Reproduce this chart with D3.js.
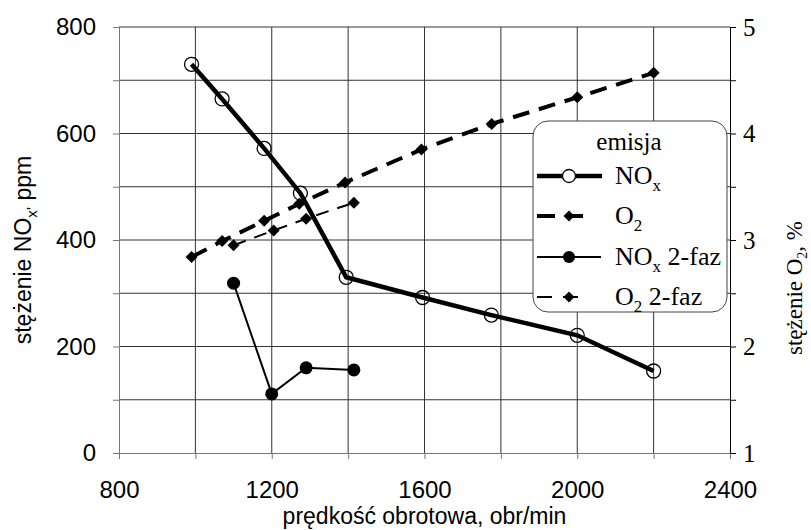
<!DOCTYPE html>
<html>
<head>
<meta charset="utf-8">
<style>
  body { margin: 0; background: #fff; }
  svg { display: block; }
</style>
</head>
<body>
<svg class="chart"></svg>

<script src="https://d3js.org/d3.v7.min.js"></script>
<script>
// speed (obr/min) and concentrations
rpmNox = [990, 1070, 1180, 1275, 1395, 1595, 1775, 2000, 2200]
nox    = [730, 665, 572, 488, 330, 292, 259, 221, 154]

rpmO2  = [990, 1070, 1180, 1272, 1392, 1592, 1776, 2000, 2200]
o2     = [2.84, 2.99, 3.18, 3.34, 3.54, 3.85, 4.09, 4.34, 4.57]

rpmNox2 = [1100, 1200, 1290, 1415]
nox2    = [319, 111, 160, 156]

rpmO22 = [1100, 1205, 1290, 1415]
o22    = [2.95, 3.09, 3.20, 3.35]

xTicks  = [800, 1200, 1600, 2000, 2400]
yTicks  = [0, 200, 400, 600, 800]
y2Ticks = [1, 2, 3, 4, 5]

width  = 811
height = 530
margin = ({top: 27, right: 81, bottom: 77, left: 119})

sans  = "'Liberation Sans', Arial, sans-serif"
serif = "'Liberation Serif', 'Times New Roman', serif"

x = d3.scaleLinear().domain([800, 2400]).range([margin.left, width - margin.right])
y = d3.scaleLinear().domain([0, 800]).range([height - margin.bottom, margin.top])
y2 = d3.scaleLinear().domain([1, 5]).range([height - margin.bottom, margin.top])

const svg = d3.select("svg")
    .attr("width", width)
    .attr("height", height)
    .attr("viewBox", [0, 0, width, height]);

// grid
svg.append("g")
    .attr("stroke", "#333")
    .attr("stroke-width", 1)
  .selectAll("line")
  .data(d3.range(1000, 2400, 200))
  .join("line")
    .attr("x1", d => x(d)).attr("x2", d => x(d))
    .attr("y1", y(0)).attr("y2", y(800));

svg.append("g")
    .attr("stroke", "#333")
    .attr("stroke-width", 1)
  .selectAll("line")
  .data(d3.range(100, 900, 100))
  .join("line")
    .attr("x1", x(800)).attr("x2", x(2400))
    .attr("y1", d => y(d)).attr("y2", d => y(d));

// axes
xAxis = g => g
    .attr("transform", `translate(0,${y(0)})`)
    .call(d3.axisBottom(x).tickValues(d3.range(800, 2401, 200)).tickSize(6)
      .tickFormat(d => xTicks.includes(d) ? d : ""))
    .call(g => g.selectAll(".domain, line").attr("stroke", "#777"))
    .call(g => g.selectAll("text").attr("font-family", sans).attr("font-size", 24)
      .attr("fill", "#000").attr("y", 28).attr("dy", "0.71em"));

yAxis = g => g
    .attr("transform", `translate(${x(800)},0)`)
    .call(d3.axisLeft(y).tickValues(d3.range(0, 801, 100)).tickSize(6)
      .tickFormat(d => yTicks.includes(d) ? d : ""))
    .call(g => g.selectAll(".domain, line").attr("stroke", "#777"))
    .call(g => g.selectAll("text").attr("font-family", sans).attr("font-size", 24)
      .attr("fill", "#000").attr("x", -23));

y2Axis = g => g
    .attr("transform", `translate(${x(2400)},0)`)
    .call(d3.axisRight(y2).tickValues(d3.range(1, 5.01, 0.5)).tickSize(6)
      .tickFormat(d => y2Ticks.includes(d) ? d : ""))
    .call(g => g.selectAll(".domain, line").attr("stroke", "#000"))
    .call(g => g.selectAll("text").attr("font-family", serif).attr("font-size", 25)
      .attr("fill", "#000").attr("x", 13));

svg.append("g").call(xAxis);
svg.append("g").call(yAxis);
svg.append("g").call(y2Axis);

// axis titles
svg.append("text")
    .attr("x", x(1600)).attr("y", 524)
    .attr("text-anchor", "middle")
    .attr("font-family", sans).attr("font-size", 23)
    .text("prędkość obrotowa, obr/min");

const yt = svg.append("text")
    .attr("transform", "translate(31,250) rotate(-90)")
    .attr("text-anchor", "middle")
    .attr("font-family", sans).attr("font-size", 23);
yt.append("tspan").text("stężenie NO");
yt.append("tspan").attr("font-size", 15).attr("dy", 6).text("x’");
yt.append("tspan").attr("dy", -6).text(" ppm");

const y2t = svg.append("text")
    .attr("transform", "translate(802,288) rotate(-90)")
    .attr("text-anchor", "middle")
    .attr("font-family", serif).attr("font-size", 23);
y2t.append("tspan").text("stężenie O");
y2t.append("tspan").attr("font-size", 14).attr("dy", 5).text("2");
y2t.append("tspan").attr("dy", -5).text(", %");

// series
diamond = s => `M0,${-s}L${s},0L0,${s}L${-s},0Z`

noxData  = rpmNox.map((r, i) => [r, nox[i]])
o2Data   = rpmO2.map((r, i) => [r, o2[i]])
nox2Data = rpmNox2.map((r, i) => [r, nox2[i]])
o22Data  = rpmO22.map((r, i) => [r, o22[i]])

lineL = d3.line().x(d => x(d[0])).y(d => y(d[1]))
lineR = d3.line().x(d => x(d[0])).y(d => y2(d[1]))

// O2 2-faz
svg.append("path")
    .datum(o22Data)
    .attr("fill", "none").attr("stroke", "#000")
    .attr("stroke-width", 2).attr("stroke-dasharray", "13,9")
    .attr("d", lineR);
svg.append("g").selectAll("path")
  .data(o22Data)
  .join("path")
    .attr("transform", d => `translate(${x(d[0])},${y2(d[1])})`)
    .attr("d", diamond(6));

// O2
svg.append("path")
    .datum(o2Data)
    .attr("fill", "none").attr("stroke", "#000")
    .attr("stroke-width", 4).attr("stroke-dasharray", "17,10")
    .attr("d", lineR);
svg.append("g").selectAll("path")
  .data(o2Data)
  .join("path")
    .attr("transform", d => `translate(${x(d[0])},${y2(d[1])})`)
    .attr("d", diamond(6));

// NOx 2-faz
svg.append("path")
    .datum(nox2Data)
    .attr("fill", "none").attr("stroke", "#000")
    .attr("stroke-width", 2)
    .attr("d", lineL);
svg.append("g").selectAll("circle")
  .data(nox2Data)
  .join("circle")
    .attr("cx", d => x(d[0])).attr("cy", d => y(d[1]))
    .attr("r", 6.5);

// NOx
svg.append("path")
    .datum(noxData)
    .attr("fill", "none").attr("stroke", "#000")
    .attr("stroke-width", 4.5)
    .attr("d", lineL);
svg.append("g").selectAll("circle")
  .data(noxData)
  .join("circle")
    .attr("cx", d => x(d[0])).attr("cy", d => y(d[1]))
    .attr("r", 7)
    .attr("fill", "none").attr("stroke", "#000").attr("stroke-width", 1.3);

// legend
const lg = svg.append("g");
lg.append("rect")
    .attr("x", 533).attr("y", 121).attr("width", 194).attr("height", 191)
    .attr("rx", 15)
    .attr("fill", "#fff").attr("stroke", "#444").attr("stroke-width", 1);
lg.append("text")
    .attr("x", 629).attr("y", 150)
    .attr("text-anchor", "middle")
    .attr("font-family", serif).attr("font-size", 25)
    .text("emisja");

legendRows = [
  {main: "NO", sub: "x", rest: "", y: 176, width: 4.5, dash: null, x2: 602, mark: "open"},
  {main: "O", sub: "2", rest: "", y: 216, width: 4, dash: "18,10", x2: 587, mark: "diamond"},
  {main: "NO", sub: "x", rest: " 2-faz", y: 257, width: 2, dash: null, x2: 601, mark: "dot"},
  {main: "O", sub: "2", rest: " 2-faz", y: 297, width: 2, dash: "15,11", x2: 585, mark: "diamond"}
]

legendRows.forEach(r => {
  lg.append("line")
      .attr("x1", 537).attr("x2", r.x2)
      .attr("y1", r.y).attr("y2", r.y)
      .attr("stroke", "#000").attr("stroke-width", r.width)
      .attr("stroke-dasharray", r.dash);
  if (r.mark == "open") {
    lg.append("circle").attr("cx", 569).attr("cy", r.y).attr("r", 6.5)
      .attr("fill", "#fff").attr("stroke", "#000").attr("stroke-width", 1.3);
  } else if (r.mark == "dot") {
    lg.append("circle").attr("cx", 569).attr("cy", r.y).attr("r", 6);
  } else {
    lg.append("path").attr("transform", `translate(569,${r.y})`).attr("d", diamond(5.5));
  }
  const t = lg.append("text")
      .attr("x", 615).attr("y", r.y + 8)
      .attr("font-family", serif).attr("font-size", 26);
  t.append("tspan").text(r.main);
  t.append("tspan").attr("font-size", 17).attr("dy", 7).text(r.sub);
  if (r.rest) t.append("tspan").attr("dy", -7).text(r.rest);
});
</script>
</body>
</html>
